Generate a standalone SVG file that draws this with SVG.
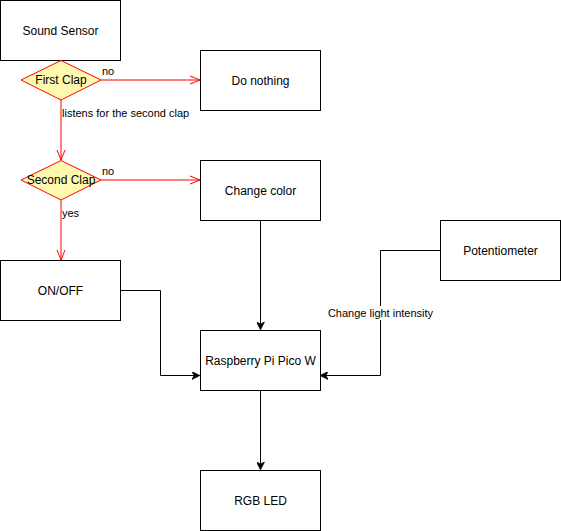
<svg xmlns="http://www.w3.org/2000/svg" width="561" height="531" viewBox="0 0 561 531">
<style>
.box{fill:#fff;stroke:#000;stroke-width:1}
.dia{fill:#fff9b0;stroke:#ff0000;stroke-width:1}
.t{font-family:"Liberation Sans",Arial,sans-serif;font-size:12px;fill:#000;text-anchor:middle;dominant-baseline:central}
.l{font-family:"Liberation Sans",Arial,sans-serif;font-size:11px;fill:#000}
.red{fill:none;stroke:#ff0000;stroke-width:1}
.blk{fill:none;stroke:#000;stroke-width:1}
</style>
<defs>
<marker id="open" viewBox="0 0 10 10" refX="10" refY="5" markerWidth="10" markerHeight="10" markerUnits="userSpaceOnUse" orient="auto">
<path d="M0,1 L10,5 L0,9" fill="none" stroke="#ff0000" stroke-width="1"/>
</marker>
<marker id="cls" viewBox="0 0 10 10" refX="9" refY="5" markerWidth="8" markerHeight="8" markerUnits="userSpaceOnUse" orient="auto">
<path d="M0,0 L10,5 L0,10 L3,5 Z" fill="#000" stroke="#000" stroke-width="1"/>
</marker>
</defs>
<rect width="561" height="531" fill="#fff"/>
<g id="connectors">
<path class="red" d="M101,80 H200" marker-end="url(#open)"/>
<path class="red" d="M61,100 V160" marker-end="url(#open)"/>
<path class="red" d="M101,180 H200" marker-end="url(#open)"/>
<path class="red" d="M61,200 V260" marker-end="url(#open)"/>
<path class="blk" d="M260.5,220 V329" marker-end="url(#cls)"/>
<path class="blk" d="M120,290.5 H160.5 V375.5 H199" marker-end="url(#cls)"/>
<path class="blk" d="M440,250.5 H380.5 V375.5 H321" marker-end="url(#cls)"/>
<path class="blk" d="M260.5,390 V469" marker-end="url(#cls)"/>
<text class="l" x="102" y="75">no</text>
<text class="l" x="62" y="117">listens for the second clap</text>
<text class="l" x="102" y="175">no</text>
<text class="l" x="62" y="217">yes</text>
<rect x="326" y="306" width="109" height="14" fill="#fff"/>
<text class="l" x="380.5" y="317" text-anchor="middle">Change light intensity</text>
</g>
<g id="sound-sensor"><rect class="box" x="0.5" y="0.5" width="120" height="60"/><text class="t" x="60.5" y="30.5">Sound Sensor</text></g>
<g id="first-clap"><path class="dia" d="M61,60.5 L101,80 L61,100 L21,80 Z"/><text class="t" x="61" y="80">First Clap</text></g>
<g id="do-nothing"><rect class="box" x="200.5" y="50.5" width="120" height="60"/><text class="t" x="260.5" y="80.5">Do nothing</text></g>
<g id="second-clap"><path class="dia" d="M61,160.5 L101,180 L61,200 L21,180 Z"/><text class="t" x="61" y="180">Second Clap</text></g>
<g id="change-color"><rect class="box" x="200.5" y="160.5" width="120" height="60"/><text class="t" x="260.5" y="190.5">Change color</text></g>
<g id="on-off"><rect class="box" x="0.5" y="260.5" width="120" height="60"/><text class="t" x="60.5" y="290.5">ON/OFF</text></g>
<g id="potentiometer"><rect class="box" x="440.5" y="220.5" width="120" height="60"/><text class="t" x="500.5" y="250.5">Potentiometer</text></g>
<g id="pico"><rect class="box" x="200.5" y="330.5" width="120" height="60"/><text class="t" x="260.5" y="360.5">Raspberry Pi Pico W</text></g>
<g id="rgb-led"><rect class="box" x="200.5" y="470.5" width="120" height="60"/><text class="t" x="260.5" y="500.5">RGB LED</text></g>
</svg>
